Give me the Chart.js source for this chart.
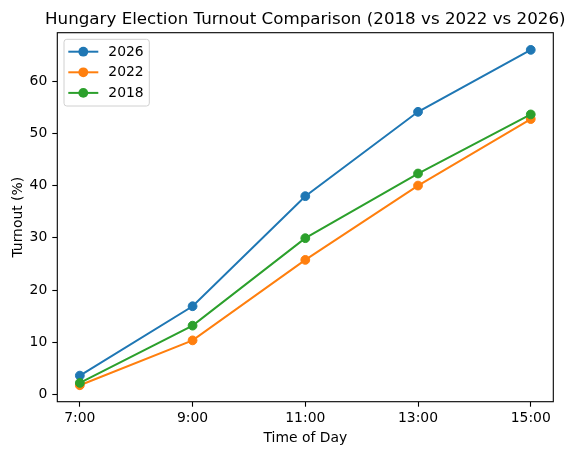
<!DOCTYPE html>
<html>
<head>
<meta charset="utf-8">
<script src="https://cdn.jsdelivr.net/npm/chart.js@4.4.1/dist/chart.umd.min.js"></script>
<style>
  html, body { margin: 0; padding: 0; background: #fff; }
  #wrap { width: 573px; height: 455px; }
</style>
</head>
<body>
<div id="wrap"><canvas id="c" width="573" height="455" style="width:573px;height:455px"></canvas></div>
<script>
const chartTitle = "Hungary Election Turnout Comparison (2018 vs 2022 vs 2026)";
const xAxisTitle = "Time of Day";
const yAxisTitle = "Turnout (%)";
const categories = ["7:00", "9:00", "11:00", "13:00", "15:00"];
const yTicks = [0, 10, 20, 30, 40, 50, 60];
const seriesLabels = ["2026", "2022", "2018"];
const turnout2026 = [3.6, 16.89, 37.98, 54.14, 66.01];
const turnout2022 = [1.75, 10.35, 25.77, 40.01, 52.75];
const turnout2018 = [2.2, 13.17, 29.93, 42.32, 53.64];
const seriesValues = [turnout2026, turnout2022, turnout2018];
const seriesColors = ["#1f77b4", "#ff7f0e", "#2ca02c"];

const FONT = "'DejaVu Sans', 'Liberation Sans', sans-serif";

const datasets = seriesValues.map((vals, i) => ({
  label: seriesLabels[i],
  data: vals.map((v, j) => ({ x: j, y: v })),
  borderColor: seriesColors[i],
  backgroundColor: seriesColors[i],
  pointBackgroundColor: seriesColors[i],
  pointBorderColor: seriesColors[i],
  borderWidth: 2,
  pointRadius: 4.4,
  pointBorderWidth: 1,
  pointHoverRadius: 4.4,
  tension: 0,
  order: seriesValues.length - 1 - i
}));

const titlePlugin = {
  id: 'mplTitle',
  afterDraw(chart) {
    const ctx = chart.ctx, a = chart.chartArea;
    ctx.save();
    ctx.font = "16.7px " + FONT;
    ctx.fillStyle = "#000";
    ctx.textAlign = "center";
    ctx.textBaseline = "alphabetic";
    ctx.fillText(chartTitle, (a.left + a.right) / 2, a.top - 8.3);
    ctx.restore();
  }
};

const framePlugin = {
  id: 'frame',
  afterDatasetsDraw(chart) {
    const ctx = chart.ctx, a = chart.chartArea;
    ctx.save();
    ctx.strokeStyle = "#000";
    ctx.lineWidth = 1.1;
    ctx.strokeRect(a.left, a.top, a.right - a.left, a.bottom - a.top);
    ctx.restore();
  }
};

const legendPlugin = {
  id: 'mplLegend',
  afterDraw(chart) {
    const ctx = chart.ctx, a = chart.chartArea;
    const x0 = a.left + 6.7, y0 = a.top + 6.6, w = 85.3, h = 66.7, r = 2.8;
    ctx.save();
    ctx.beginPath();
    ctx.moveTo(x0 + r, y0);
    ctx.lineTo(x0 + w - r, y0);
    ctx.arcTo(x0 + w, y0, x0 + w, y0 + r, r);
    ctx.lineTo(x0 + w, y0 + h - r);
    ctx.arcTo(x0 + w, y0 + h, x0 + w - r, y0 + h, r);
    ctx.lineTo(x0 + r, y0 + h);
    ctx.arcTo(x0, y0 + h, x0, y0 + h - r, r);
    ctx.lineTo(x0, y0 + r);
    ctx.arcTo(x0, y0, x0 + r, y0, r);
    ctx.closePath();
    ctx.fillStyle = "rgba(255,255,255,0.8)";
    ctx.fill();
    ctx.strokeStyle = "#d0d0d0";
    ctx.lineWidth = 1;
    ctx.stroke();
    chart.data.datasets.forEach((ds, i) => {
      const cy = y0 + 12.4 + i * 20.6;
      ctx.strokeStyle = ds.borderColor;
      ctx.lineWidth = 2;
      ctx.beginPath();
      ctx.moveTo(x0 + 4.3, cy);
      ctx.lineTo(x0 + 34.3, cy);
      ctx.stroke();
      ctx.fillStyle = ds.borderColor;
      ctx.beginPath();
      ctx.arc(x0 + 19.3, cy, 4.9, 0, Math.PI * 2);
      ctx.fill();
      ctx.fillStyle = "#000";
      ctx.font = "13.9px " + FONT;
      ctx.textAlign = "left";
      ctx.textBaseline = "middle";
      ctx.fillText(ds.label, x0 + 44.3, cy + 0.5);
    });
    ctx.restore();
  }
};

new Chart(document.getElementById('c'), {
  type: 'line',
  data: { datasets },
  plugins: [titlePlugin, framePlugin, legendPlugin],
  options: {
    responsive: false,
    maintainAspectRatio: false,
    animation: false,
    devicePixelRatio: 1,
    layout: { padding: { left: 0, right: 19.7, top: 32.7, bottom: 0 } },
    plugins: {
      legend: { display: false },
      title: { display: false },
      tooltip: { enabled: false }
    },
    scales: {
      x: {
        type: 'linear',
        min: -0.2,
        max: 4.2,
        afterBuildTicks: s => { s.ticks = categories.map((c, i) => ({ value: i })); },
        afterFit: s => { s.height = 53.3; },
        ticks: {
          callback: v => categories[v],
          color: '#000',
          font: { family: FONT, size: 13.9 },
          padding: 3,
          maxRotation: 0,
          autoSkip: false
        },
        grid: { display: true, drawOnChartArea: false, drawTicks: true, tickLength: 5, tickColor: '#000', tickWidth: 1.1 },
        border: { display: false },
        title: { display: true, text: xAxisTitle, color: '#000', font: { family: FONT, size: 13.9 }, padding: { top: 0, bottom: 8.2 } }
      },
      y: {
        type: 'linear',
        min: -1.4,
        max: 69.3,
        afterBuildTicks: s => { s.ticks = yTicks.map(v => ({ value: v })); },
        afterFit: s => { s.width = 57.3; },
        ticks: {
          color: '#000',
          font: { family: FONT, size: 13.9 },
          padding: 5
        },
        grid: { display: true, drawOnChartArea: false, drawTicks: true, tickLength: 5, tickColor: '#000', tickWidth: 1.1 },
        border: { display: false },
        title: { display: true, text: yAxisTitle, color: '#000', font: { family: FONT, size: 13.9 }, padding: { top: 10.2, bottom: 0 } }
      }
    }
  }
});
</script>
</body>
</html>
